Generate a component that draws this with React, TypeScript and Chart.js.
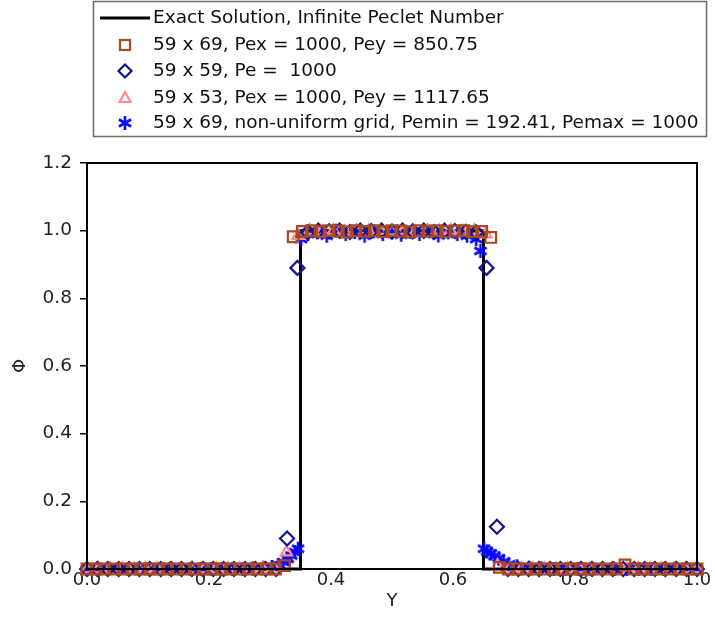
import React, { useEffect, useRef } from "react";
import { Chart, registerables } from "chart.js";

Chart.register(...registerables);

// ---------- DATA ----------
const legendLabels = [
  "Exact Solution, Infinite Peclet Number",
  "59 x 69, Pex = 1000, Pey = 850.75",
  "59 x 59, Pe =  1000",
  "59 x 53, Pex = 1000, Pey = 1117.65",
  "59 x 69, non-uniform grid, Pemin = 192.41, Pemax = 1000",
];

const xTicks = [0, 0.2, 0.4, 0.6, 0.8, 1.0];
const yTicks = [0, 0.2, 0.4, 0.6, 0.8, 1.0, 1.2];

const exactX = [0, 0.35, 0.35, 0.65, 0.65, 1.0];
const exactY = [0, 0, 1, 1, 0, 0];

const sqX = [
  0, 0.015, 0.029, 0.044, 0.059, 0.074, 0.088, 0.103, 0.118, 0.132, 0.147, 0.162, 0.176, 0.191,
  0.206, 0.221, 0.235, 0.25, 0.265, 0.279, 0.294, 0.309, 0.324, 0.338, 0.353, 0.368, 0.382, 0.397,
  0.412, 0.426, 0.441, 0.456, 0.471, 0.485, 0.5, 0.515, 0.529, 0.544, 0.559, 0.574, 0.588, 0.603,
  0.618, 0.632, 0.647, 0.662, 0.676, 0.691, 0.706, 0.721, 0.735, 0.75, 0.765, 0.779, 0.794, 0.809,
  0.824, 0.838, 0.853, 0.868, 0.882, 0.897, 0.912, 0.926, 0.941, 0.956, 0.971, 0.985, 1.0,
];
const sqY = [
  0, 0, 0, 0, 0, 0, 0, 0, 0, 0, 0, 0, 0, 0,
  0, 0, 0, 0, 0, 0, 0, 0, 0.01, 0.982, 0.998, 1.0, 0.997, 1.0,
  0.999, 0.996, 1.0, 0.998, 1.0, 0.997, 1.0, 0.999, 0.996, 1.0, 0.998, 1.0, 0.997, 0.999,
  1.0, 0.997, 0.998, 0.98, 0.005, 0, 0, 0, 0, 0, 0, 0, 0, 0,
  0, 0, 0, 0, 0.012, 0, 0, 0, 0, 0, 0, 0, 0,
];

const diX = [
  0, 0.017, 0.034, 0.052, 0.069, 0.086, 0.103, 0.121, 0.138, 0.155, 0.172, 0.19, 0.207, 0.224,
  0.241, 0.259, 0.276, 0.293, 0.31, 0.328, 0.345, 0.362, 0.379, 0.397, 0.414, 0.431, 0.448, 0.466,
  0.483, 0.5, 0.517, 0.534, 0.552, 0.569, 0.586, 0.603, 0.621, 0.638, 0.655, 0.672, 0.69, 0.707,
  0.724, 0.741, 0.759, 0.776, 0.793, 0.81, 0.828, 0.845, 0.862, 0.879, 0.897, 0.914, 0.931, 0.948,
  0.966, 0.983, 1.0,
];
const diY = [
  0, 0, 0, 0, 0, 0, 0, 0, 0, 0, 0, 0, 0, 0,
  0, 0, 0, 0, 0, 0.09, 0.89, 0.995, 1.0, 0.998, 1.0, 0.996, 1.0, 0.999,
  1.0, 0.997, 1.0, 0.998, 1.0, 0.996, 1.0, 0.999, 0.997, 0.995, 0.89, 0.125, 0, 0,
  0, 0, 0, 0, 0, 0, 0, 0, 0, 0, 0, 0, 0, 0,
  0, 0, 0,
];

const trX = [
  0, 0.019, 0.038, 0.058, 0.077, 0.096, 0.115, 0.135, 0.154, 0.173, 0.192, 0.212, 0.231, 0.25,
  0.269, 0.288, 0.308, 0.327, 0.346, 0.365, 0.385, 0.404, 0.423, 0.442, 0.462, 0.481, 0.5, 0.519,
  0.538, 0.558, 0.577, 0.596, 0.615, 0.635, 0.654, 0.673, 0.692, 0.712, 0.731, 0.75, 0.769, 0.788,
  0.808, 0.827, 0.846, 0.865, 0.885, 0.904, 0.923, 0.942, 0.962, 0.981, 1.0,
];
const trY = [
  0, 0, 0, 0, 0, 0, 0, 0, 0, 0, 0, 0, 0, 0,
  0, 0, 0, 0.05, 0.985, 1.0, 0.998, 1.0, 0.997, 1.0, 0.999, 1.0, 0.998, 1.0,
  0.997, 1.0, 0.999, 1.0, 0.998, 1.0, 0.99, 0.01, 0, 0, 0, 0, 0, 0,
  0, 0, 0, 0, 0, 0, 0, 0, 0, 0, 0,
];

const stX = [
  0, 0.017, 0.034, 0.051, 0.068, 0.085, 0.102, 0.119, 0.136, 0.153, 0.17, 0.187, 0.204, 0.221,
  0.238, 0.255, 0.272, 0.289,
  0.303, 0.314, 0.322, 0.329, 0.335, 0.341, 0.346, 0.351,
  0.362, 0.377, 0.393, 0.408, 0.424, 0.439, 0.455, 0.47, 0.485, 0.5, 0.515, 0.53, 0.545, 0.561,
  0.576, 0.592, 0.607, 0.623, 0.638,
  0.645, 0.651, 0.656, 0.662, 0.668, 0.675, 0.683, 0.692,
  0.705, 0.725, 0.745, 0.765, 0.785, 0.805, 0.825, 0.845, 0.865, 0.885, 0.905, 0.925, 0.945,
  0.965, 0.983, 1.0,
];
const stY = [
  0, 0, 0, 0, 0, 0, 0, 0, 0, 0, 0, 0, 0, 0,
  0, 0, 0.002, 0.004,
  0.006, 0.012, 0.02, 0.03, 0.04, 0.05, 0.06, 0.975,
  0.99, 0.995, 0.985, 1.0, 0.99, 0.996, 0.985, 0.998, 0.99, 1.0, 0.988, 0.996, 0.99, 0.998,
  0.986, 0.995, 0.99, 0.985, 0.975,
  0.94, 0.06, 0.052, 0.046, 0.038, 0.032, 0.022, 0.014,
  0.008, 0.004, 0.002, 0, 0, 0, 0, 0, 0, 0, 0, 0, 0,
  0, 0, 0,
];

// ---------- STYLES ----------
const COL_EXACT = "#000000";
const COL_SQ = "#A84A22";
const COL_DI = "#14148C";
const COL_TR = "#FF8A8A";
const COL_ST = "#0A0AFF";
const FONT = "'DejaVu Sans', 'Liberation Sans', Arial, sans-serif";

const pts = (xs: number[], ys: number[]) => xs.map((x, i) => ({ x, y: ys[i] }));

function makeStar(color: string, r: number, lw: number): HTMLCanvasElement {
  const s = Math.ceil(2 * r + 4);
  const c = document.createElement("canvas");
  c.width = s;
  c.height = s;
  const g = c.getContext("2d")!;
  g.strokeStyle = color;
  g.lineWidth = lw;
  g.lineCap = "butt";
  const cx = s / 2;
  const cy = s / 2;
  for (const a of [90, 30, 150]) {
    const rad = (a * Math.PI) / 180;
    g.beginPath();
    g.moveTo(cx - Math.cos(rad) * r, cy - Math.sin(rad) * r);
    g.lineTo(cx + Math.cos(rad) * r, cy + Math.sin(rad) * r);
    g.stroke();
  }
  return c;
}

function drawSquare(ctx: CanvasRenderingContext2D, x: number, y: number) {
  ctx.strokeStyle = COL_SQ;
  ctx.lineWidth = 2.2;
  ctx.strokeRect(x - 5, y - 5, 10, 10);
}
function drawDiamond(ctx: CanvasRenderingContext2D, x: number, y: number) {
  ctx.strokeStyle = COL_DI;
  ctx.lineWidth = 2.2;
  ctx.beginPath();
  ctx.moveTo(x, y - 6.5);
  ctx.lineTo(x + 6.5, y);
  ctx.lineTo(x, y + 6.5);
  ctx.lineTo(x - 6.5, y);
  ctx.closePath();
  ctx.stroke();
}
function drawTriangle(ctx: CanvasRenderingContext2D, x: number, y: number) {
  ctx.strokeStyle = COL_TR;
  ctx.lineWidth = 2.2;
  ctx.beginPath();
  ctx.moveTo(x, y - 6);
  ctx.lineTo(x + 5.5, y + 4);
  ctx.lineTo(x - 5.5, y + 4);
  ctx.closePath();
  ctx.stroke();
}

export default function App() {
  const ref = useRef<HTMLCanvasElement | null>(null);

  useEffect(() => {
    if (!ref.current) return;
    const star = makeStar(COL_ST, 7, 2.6);

    const boxPlugin = {
      id: "boxAndLegend",
      afterDatasetsDraw(chart: any) {
        const { ctx, chartArea } = chart;
        ctx.save();
        ctx.strokeStyle = "#000";
        ctx.lineWidth = 2;
        ctx.strokeRect(chartArea.left, chartArea.top, chartArea.right - chartArea.left, chartArea.bottom - chartArea.top);
        ctx.restore();
      },
      afterDraw(chart: any) {
        const ctx: CanvasRenderingContext2D = chart.ctx;
        ctx.save();
        ctx.fillStyle = "#fff";
        ctx.fillRect(94, 2, 612, 134);
        ctx.strokeStyle = "#6a6a6a";
        ctx.lineWidth = 1.5;
        ctx.strokeRect(93.5, 1.5, 613, 135);
        const rows = [17, 44, 70, 97, 122];
        ctx.font = `18.5px ${FONT}`;
        ctx.fillStyle = "#111";
        ctx.textBaseline = "middle";
        ctx.textAlign = "left";
        rows.forEach((ry, i) => {
          ctx.fillText(legendLabels[i], 153, ry + 1);
        });
        // markers
        ctx.strokeStyle = COL_EXACT;
        ctx.lineWidth = 3;
        ctx.beginPath();
        ctx.moveTo(100, rows[0] + 1);
        ctx.lineTo(150, rows[0] + 1);
        ctx.stroke();
        drawSquare(ctx, 125, rows[1] + 1);
        drawDiamond(ctx, 125, rows[2] + 1);
        drawTriangle(ctx, 125, rows[3] + 1);
        ctx.drawImage(star, 125 - star.width / 2, rows[4] + 1 - star.height / 2);
        ctx.restore();
      },
    };

    const chart = new Chart(ref.current, {
      type: "scatter",
      data: {
        datasets: [
          {
            label: legendLabels[1],
            data: pts(sqX, sqY),
            pointStyle: "rect",
            pointRadius: 7.5,
            pointBorderColor: COL_SQ,
            pointBackgroundColor: "rgba(0,0,0,0)",
            pointBorderWidth: 2.2,
            clip: false,
          } as any,
          {
            label: legendLabels[2],
            data: pts(diX, diY),
            pointStyle: "rectRot",
            pointRadius: 7,
            pointBorderColor: COL_DI,
            pointBackgroundColor: "rgba(0,0,0,0)",
            pointBorderWidth: 2.2,
            clip: false,
          },
          {
            label: legendLabels[3],
            data: pts(trX, trY),
            pointStyle: "triangle",
            pointRadius: 6.5,
            pointBorderColor: COL_TR,
            pointBackgroundColor: "rgba(0,0,0,0)",
            pointBorderWidth: 2.2,
            clip: false,
          },
          {
            label: legendLabels[4],
            data: pts(stX, stY),
            pointStyle: star,
            pointRadius: 7,
            pointBorderColor: COL_ST,
            clip: false,
          },
          {
            label: legendLabels[0],
            data: pts(exactX, exactY),
            showLine: true,
            borderColor: COL_EXACT,
            borderWidth: 3,
            pointRadius: 0,
            tension: 0,
            clip: false,
          },
        ],
      },
      options: {
        responsive: false,
        animation: false,
        events: [],
        layout: { padding: { top: 163, right: 18, left: 0, bottom: 0 } },
        plugins: { legend: { display: false }, tooltip: { enabled: false } },
        scales: {
          x: {
            type: "linear",
            min: 0,
            max: 1,
            afterBuildTicks: (s: any) => {
              s.ticks = xTicks.map((v) => ({ value: v }));
            },
            afterFit: (s: any) => {
              s.height = 67;
            },
            ticks: {
              font: { family: FONT, size: 18 },
              color: "#222",
              padding: 1,
              maxRotation: 0,
              callback: (v: any) => Number(v).toFixed(1),
            },
            grid: { display: false, drawTicks: false },
            border: { display: true, color: "#000", width: 2 },
            title: {
              display: true,
              text: "Y",
              font: { family: FONT, size: 18 },
              color: "#222",
              padding: { top: 0, bottom: 24 },
            },
          },
          y: {
            type: "linear",
            min: 0,
            max: 1.2,
            afterBuildTicks: (s: any) => {
              s.ticks = yTicks.map((v) => ({ value: v }));
            },
            afterFit: (s: any) => {
              s.width = 87;
            },
            ticks: {
              font: { family: FONT, size: 18.5 },
              color: "#222",
              padding: 8,
              callback: (v: any) => Number(v).toFixed(1),
            },
            grid: { drawOnChartArea: false, drawTicks: true, tickLength: 7, color: "#000", lineWidth: 1.5 },
            border: { display: true, color: "#000", width: 2 },
            title: {
              display: true,
              text: "Φ",
              font: { family: FONT, size: 18 },
              color: "#222",
              padding: { top: 10, bottom: 0 },
            },
          },
        },
      },
      plugins: [boxPlugin],
    } as any);

    return () => chart.destroy();
  }, []);

  return (
    <div style={{ position: "absolute", left: 0, top: 0, width: 715, height: 636, background: "#fff" }}>
      <canvas ref={ref} width={715} height={636} style={{ display: "block" }} />
    </div>
  );
}
